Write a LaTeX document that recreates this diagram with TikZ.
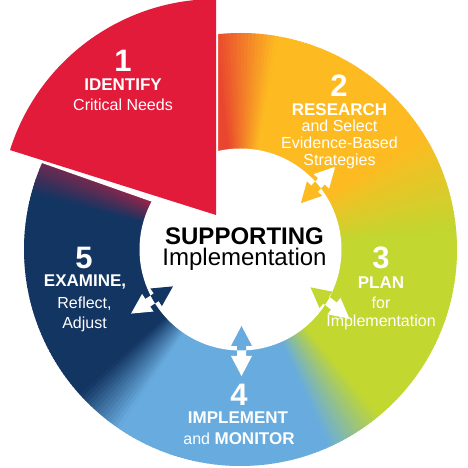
\documentclass[tikz,border=0pt]{standalone}
\usepackage{fontspec}
\setmainfont{Liberation Sans}
\definecolor{segred}{HTML}{E31B3B}
\definecolor{redorange}{HTML}{E9452F}
\definecolor{gold}{HTML}{FDBB21}
\definecolor{lime}{HTML}{C2D730}
\definecolor{lblue}{HTML}{68ACDF}
\definecolor{navy}{HTML}{133562}
\colorlet{ringpurple}{segred!75!navy}
\tikzset{
  num/.style={text=white, font=\fontsize{31}{31}\selectfont\bfseries, anchor=base, inner sep=0pt},
  lblb/.style={text=white, font=\fontsize{17}{19}\selectfont\bfseries, anchor=base, inner sep=0pt},
  lbl/.style={text=white, font=\fontsize{16}{18}\selectfont, anchor=base, inner sep=0pt},
  ctrtext/.style={text=black, font=\fontsize{24}{21}\selectfont, align=center, anchor=base, inner sep=0pt},
  dblarrow/.pic={\fill (-25,0) -- (-5,10.5) -- (-5,4.5) -- (5,4.5) -- (5,10.5) -- (25,0)
     -- (5,-10.5) -- (5,-4.5) -- (-5,-4.5) -- (-5,-10.5) -- cycle;}
}
\begin{document}
\begin{tikzpicture}[x=1pt,y=1pt]
\useasboundingbox (0,0) rectangle (468,468);
\fill[white] (0,0) rectangle (468,468);
\coordinate (C) at (240.5,218.5);
% ring with angular colour gradient
\begin{scope}[shift={(240.5,218.5)}]
\foreach \a/\b/\ca/\cb in {-210/-195/ringpurple/navy, -195/-138/navy/navy,
   -138/-124/navy/lblue, -124/-66/lblue/lblue, -66/-50/lblue/lime, -50/5/lime/lime,
   5/32/lime/gold, 32/80/gold/gold, 80/97/gold/redorange, 97/106/redorange/redorange}{
  \pgfmathtruncatemacro\nn{\b-\a}
  \foreach \i in {1,...,\nn}{
    \pgfmathsetmacro\ta{\a+\i-1}
    \pgfmathsetmacro\tb{\a+\i+0.3}
    \pgfmathsetmacro\pp{100*(\i-0.5)/\nn}
    \fill[\cb!\pp!\ca] (\ta:95) -- (\ta:216.5) -- (\tb:216.5) -- (\tb:95) -- cycle;
  }
}
\end{scope}
% white cut where segment 1 was pulled out
\fill[white] (218,243) -- (218,478) -- (-10,478) -- (-10,323.3) -- cycle;
% inner white circle
\fill[white] (C) circle[radius=101];
% segment 1 (pulled out)
\fill[segred] (216,253) -- ++(90:216) arc[start angle=90,end angle=162.5,radius=216] -- cycle;
% double arrows (inverted colours across the inner circle)
\pic[white, rotate=46.7] at (318,283) {dblarrow};
\pic[white, rotate=-38.7] at (330,165) {dblarrow};
\pic[white, rotate=90] at (241.5,117) {dblarrow};
\pic[white, rotate=33] at (152,168) {dblarrow};
\begin{scope}
\clip (C) circle[radius=101];
\pic[gold, rotate=46.7] at (318,283) {dblarrow};
\pic[lime, rotate=-38.7] at (330,165) {dblarrow};
\pic[lblue, rotate=90] at (241.5,117) {dblarrow};
\pic[navy, rotate=33] at (152,168) {dblarrow};
\end{scope}
% texts
\node[num] (n1) at (123,396) {1};
\node[lblb] (t1a) at (123,377) {IDENTIFY};
\node[lbl] (t1b) at (123,357) {Critical Needs};
\node[num] (n2) at (339,371) {2};
\node[lblb] (t2a) at (339.5,352) {RESEARCH};
\node[lbl] (t2b) at (339.5,336) {and Select};
\node[lbl] (t2c) at (339.5,319) {Evidence-Based};
\node[lbl] (t2d) at (339.5,302) {Strategies};
\node[num] (n3) at (381,199) {3};
\node[lblb] (t3a) at (381,179) {PLAN};
\node[lbl] (t3b) at (381,159) {for};
\node[lbl] (t3c) at (381,141) {Implementation};
\node[num] (n4) at (239,62) {4};
\node[lblb] (t4a) at (238,44) {IMPLEMENT};
\node[lbl] (t4b) at (239,23) {and \bfseries\fontsize{17}{19}\selectfont MONITOR};
\node[num] (n5) at (84,199) {5};
\node[lblb] (t5a) at (85,181) {EXAMINE,};
\node[lbl] (t5b) at (84.5,159) {Reflect,};
\node[lbl] (t5c) at (84.5,139) {Adjust};
\node[ctrtext] (ctr) at (244.5,202.5) {\textbf{SUPPORTING}\\Implementation};
\end{tikzpicture}
\end{document}
